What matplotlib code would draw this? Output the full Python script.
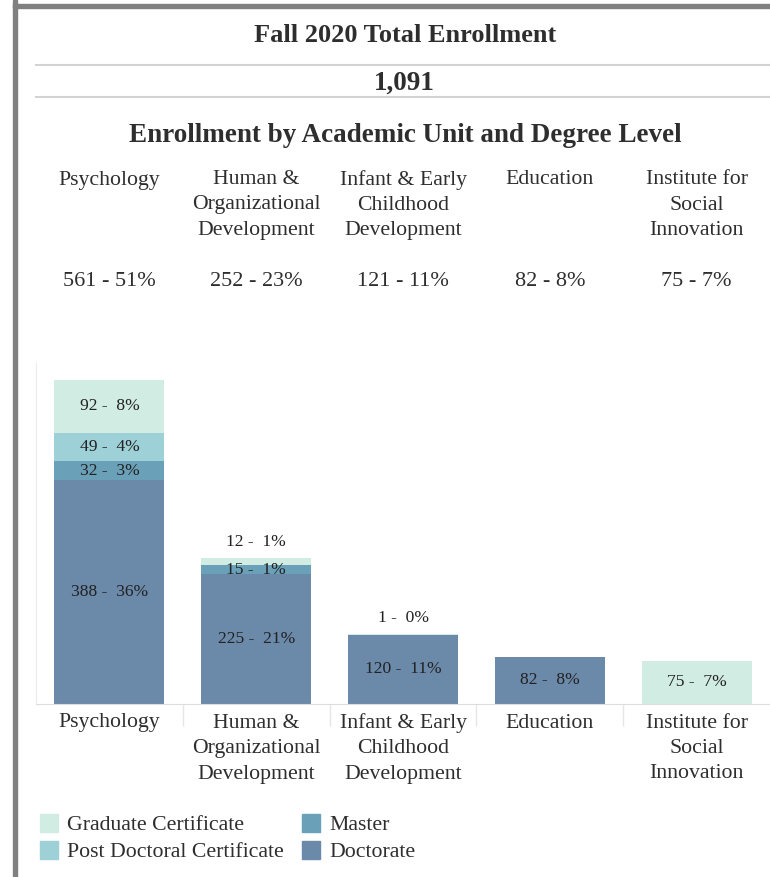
import matplotlib
matplotlib.use("Agg")
import matplotlib.pyplot as plt
from matplotlib.patches import Rectangle
from matplotlib.lines import Line2D

plt.rcParams['font.family'] = ['Liberation Serif', 'DejaVu Serif']

W, H = 770, 877
DPI = 100

units = ["Psychology", "Human &\nOrganizational\nDevelopment", "Infant & Early\nChildhood\nDevelopment",
         "Education", "Institute for\nSocial\nInnovation"]
levels = ["Doctorate", "Master", "Post Doctoral Certificate", "Graduate Certificate"]
doctorate = [388, 225, 120, 82, 0]
master = [32, 15, 0, 0, 0]
post_doc = [49, 0, 0, 0, 0]
grad_cert = [92, 12, 1, 0, 75]
total_enrollment = 1091
colors = {"Graduate Certificate": "#d1ece3", "Post Doctoral Certificate": "#9dd0d7",
          "Master": "#6aa1b9", "Doctorate": "#6b89a9"}
series = {"Doctorate": doctorate, "Master": master,
          "Post Doctoral Certificate": post_doc, "Graduate Certificate": grad_cert}

TXT = "#2e2e2e"

fig = plt.figure(figsize=(W / DPI, H / DPI), dpi=DPI)

def fx(x): return x / W
def fy(y): return 1 - y / H

# frame
fig.patches.append(Rectangle((fx(13), 0), fx(4), 1, transform=fig.transFigure, color="#808080", zorder=0))
fig.patches.append(Rectangle((fx(13), fy(8)), 1, 4 / H, transform=fig.transFigure, color="#808080", zorder=0))

# header
fig.text(fx(405), fy(35), "Fall 2020 Total Enrollment", ha="center", va="center",
         fontsize=19, fontweight="bold", color=TXT)
fig.add_artist(Line2D([fx(36), 1], [fy(65), fy(65)], color="#d3d3d3", lw=1.5, transform=fig.transFigure))
fig.text(fx(404), fy(83), f"{total_enrollment:,}", ha="center", va="center",
         fontsize=19.5, fontweight="bold", color=TXT)
fig.add_artist(Line2D([fx(36), 1], [fy(97), fy(97)], color="#d3d3d3", lw=1.5, transform=fig.transFigure))
fig.text(fx(405), fy(135), "Enrollment by Academic Unit and Degree Level", ha="center", va="center",
         fontsize=19.5, fontweight="bold", color=TXT)

totals = [sum(series[l][i] for l in levels) for i in range(len(units))]

# axes
ax_left, ax_right = 36, 770
ax_top, ax_bot = 363, 704
ax = fig.add_axes([fx(ax_left), fy(ax_bot), fx(ax_right - ax_left), (ax_bot - ax_top) / H])
ax.set_xlim(-0.5, len(units) - 0.5)
ax.set_ylim(0, 590)
px_per_unit = (ax_bot - ax_top) / 590

def col_center(i):
    return ax_left + (i + 0.5) * (ax_right - ax_left) / len(units)

# column header labels and totals
for i, (u, t) in enumerate(zip(units, totals)):
    xc = col_center(i)
    for k, line in enumerate(u.split("\n")):
        fig.text(fx(xc), fy(180 + 25 * k), line, ha="center", va="center", fontsize=15.7, color=TXT)
    fig.text(fx(xc), fy(281), f"{t} - {round(t / total_enrollment * 100)}%", ha="center", va="center",
             fontsize=16, color=TXT)
    for k, line in enumerate(u.split("\n")):
        fig.text(fx(xc), fy(723 + 25.5 * k), line, ha="center", va="center", fontsize=15.7, color=TXT)

bottoms = [0] * len(units)
for lvl in levels:
    vals = series[lvl]
    ax.bar(range(len(units)), vals, bottom=bottoms, width=0.75, color=colors[lvl], edgecolor="none")
    for i, v in enumerate(vals):
        if v <= 0:
            continue
        pct = round(v / total_enrollment * 100)
        lab = f"{v} -  {pct}%"
        if v * px_per_unit < 8:
            y = totals[i] + 16 / px_per_unit
        else:
            y = bottoms[i] + v / 2
        ax.text(i, y, lab, ha="center", va="center", fontsize=12.6, color="#222222")
    bottoms = [b + v for b, v in zip(bottoms, vals)]

for s in ["top", "right"]:
    ax.spines[s].set_visible(False)
ax.spines["left"].set_color("#ececec")
ax.spines["bottom"].set_color("#dddddd")
ax.set_yticks([])
ax.set_xticks([i - 0.5 for i in range(1, len(units))])
ax.set_xticklabels([])
ax.tick_params(axis="x", length=16, color="#e6e6e6", width=1)

# legend
leg_items = [("Graduate Certificate", 40, 823), ("Post Doctoral Certificate", 40, 850),
             ("Master", 302, 823), ("Doctorate", 302, 850)]
for name, x, y in leg_items:
    fig.patches.append(Rectangle((fx(x), fy(y + 9)), fx(18), 18 / H, transform=fig.transFigure,
                                 color=colors[name]))
    fig.text(fx(x + 27), fy(y + 2.5), name, ha="left", va="center", fontsize=15.7, color=TXT)

fig.savefig("out.png", dpi=DPI)
